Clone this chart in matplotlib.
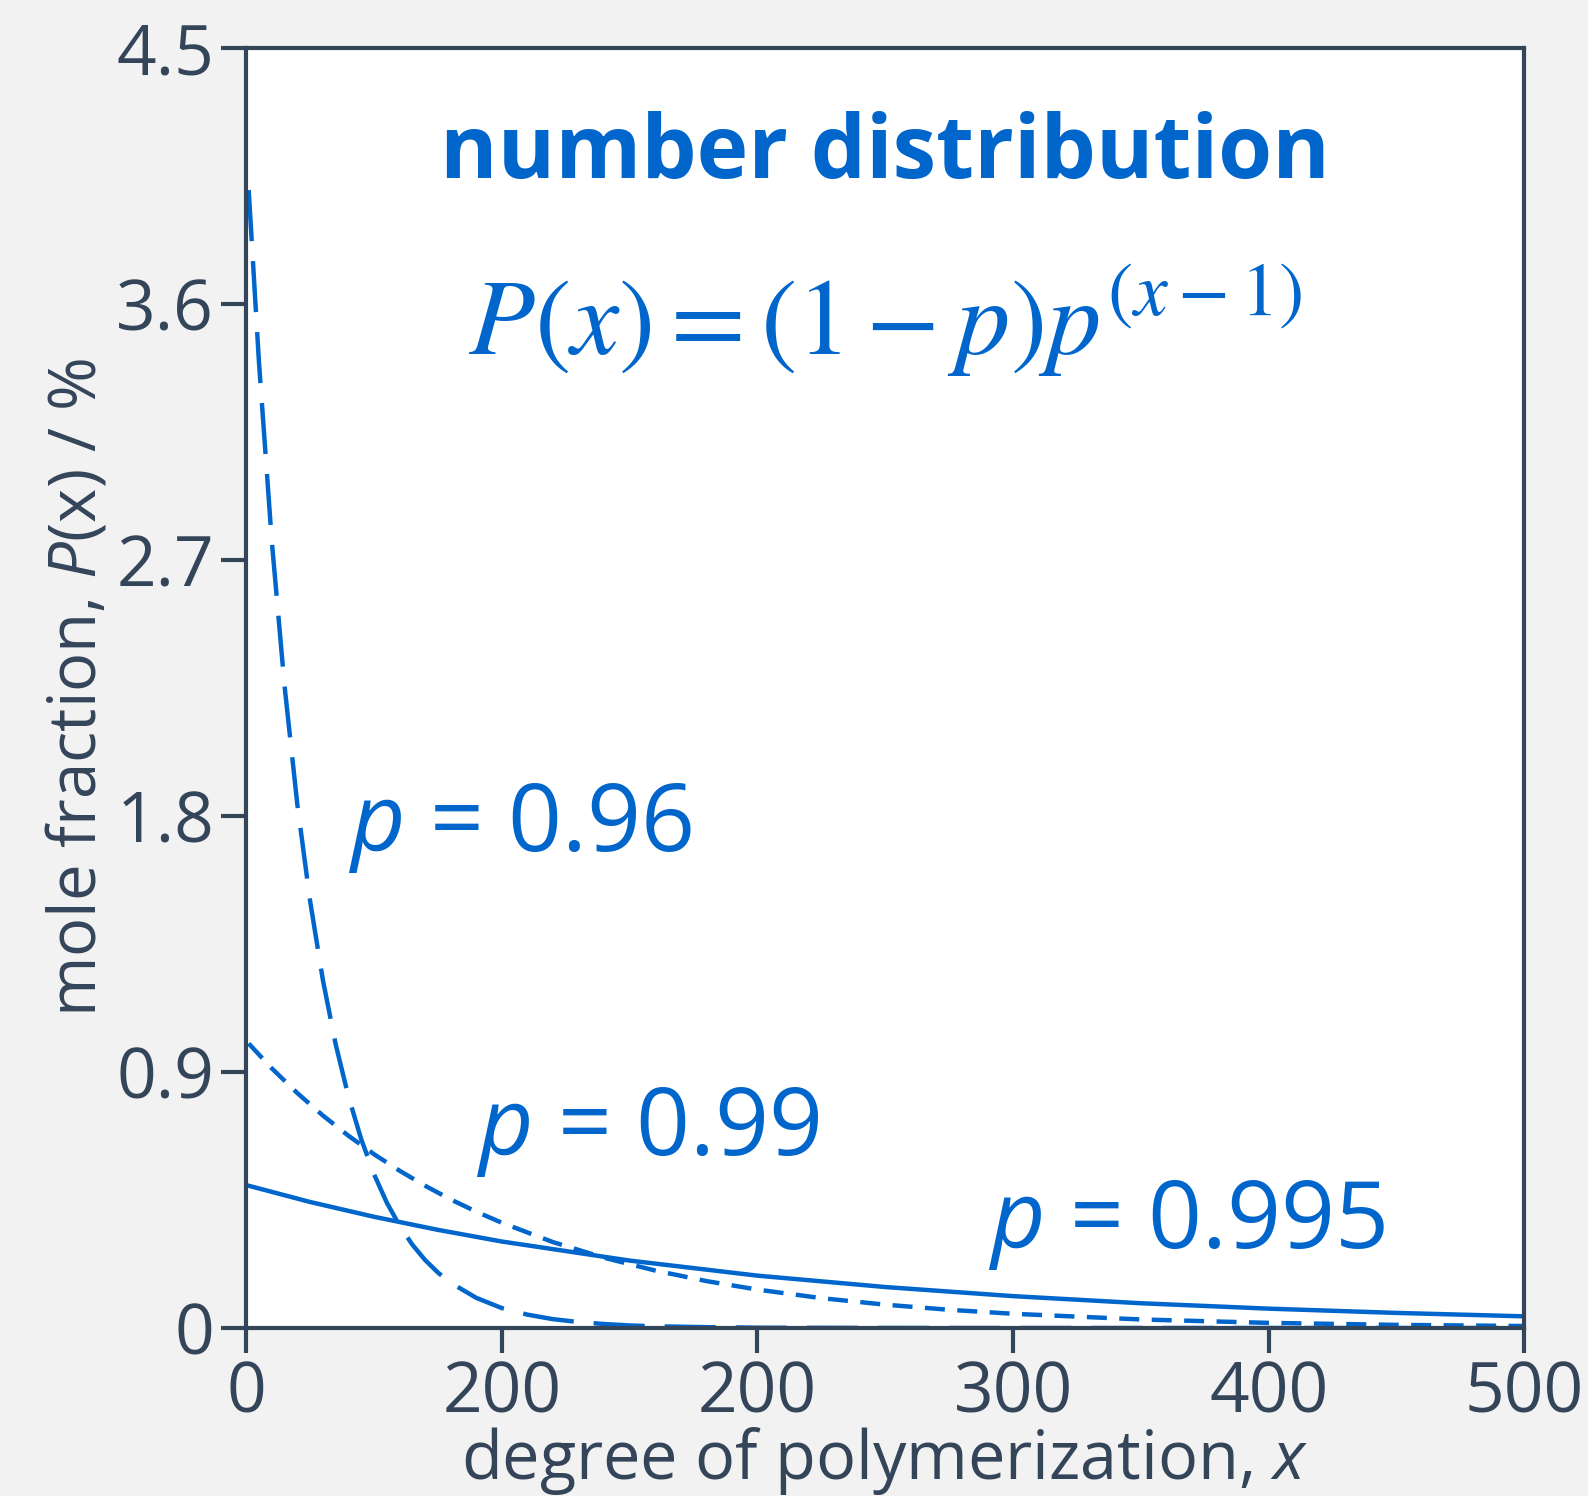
import matplotlib
matplotlib.use("Agg")
import matplotlib.pyplot as plt

# Datos: fracción molar (%) frente a grado de polimerización
x_096 = [1, 5, 10, 15, 20, 25, 30, 35, 40, 45, 50, 55, 60, 65, 70, 75, 80,
         90, 100, 110, 120, 130, 140, 150, 160, 180, 200, 250, 300, 400, 500]
y_096 = [4.000, 3.397, 2.770, 2.259, 1.842, 1.502, 1.224, 0.998, 0.814, 0.664,
         0.541, 0.441, 0.360, 0.293, 0.239, 0.195, 0.159, 0.106, 0.070, 0.047,
         0.031, 0.021, 0.014, 0.009, 0.006, 0.003, 0.001, 0.0002, 0.0, 0.0,
         0.0]

x_099 = [1, 10, 20, 30, 40, 50, 60, 70, 80, 90, 100, 120, 140, 160, 180, 200,
         225, 250, 275, 300, 350, 400, 450, 500]
y_099 = [1.000, 0.913, 0.826, 0.747, 0.676, 0.611, 0.553, 0.500, 0.452, 0.409,
         0.370, 0.302, 0.247, 0.202, 0.165, 0.135, 0.105, 0.082, 0.064, 0.050,
         0.030, 0.018, 0.011, 0.007]

x_0995 = [1, 25, 50, 75, 100, 150, 200, 250, 300, 350, 400, 450, 500]
y_0995 = [0.500, 0.443, 0.391, 0.345, 0.304, 0.237, 0.184, 0.144, 0.112,
          0.087, 0.068, 0.053, 0.041]

xticks = [0, 100, 200, 300, 400, 500]
xtick_labels = ["0", "200", "200", "300", "400", "500"]
yticks = [0, 0.9, 1.8, 2.7, 3.6, 4.5]
ytick_labels = ["0", "0.9", "1.8", "2.7", "3.6", "4.5"]

azul = "#0066cc"
gris = "#34455a"

plt.rcParams["font.family"] = ["Open Sans", "DejaVu Sans"]
plt.rcParams["mathtext.fontset"] = "custom"
plt.rcParams["mathtext.rm"] = "Open Sans"
plt.rcParams["mathtext.it"] = "Open Sans:italic"

fig = plt.figure(figsize=(15.88, 14.96), dpi=100, facecolor="#f2f2f2")
ax = fig.add_axes([0.155, 0.1123, 0.805, 0.8557])
ax.set_facecolor("white")

# Curvas
ax.plot(x_096, y_096, color=azul, lw=3.2, dashes=(11.5, 4.5))
ax.plot(x_099, y_099, color=azul, lw=3.2, dashes=(4.5, 2.8))
ax.plot(x_0995, y_0995, color=azul, lw=3.2)

ax.set_xlim(0, 500)
ax.set_ylim(0, 4.5)
ax.set_xticks(xticks)
ax.set_xticklabels(xtick_labels)
ax.set_yticks(yticks)
ax.set_yticklabels(ytick_labels)

for s in ax.spines.values():
    s.set_color(gris)
    s.set_linewidth(3)
ax.tick_params(direction="out", length=18, width=3, color=gris,
               labelcolor=gris, labelsize=50, pad=5)

ax.set_xlabel(r"degree of polymerization, $x$", fontsize=48, color=gris,
              va="baseline")
ax.xaxis.set_label_coords(0.5, -0.118)
ax.set_ylabel(r"mole fraction, $P$(x) / %", fontsize=47, color=gris,
              va="baseline")
ax.yaxis.set_label_coords(-0.118, 0.5)

# Textos
ax.text(250, 4.044, "number distribution", ha="center", va="baseline",
        fontsize=63, fontweight="bold", color=azul)
ax.text(250, 3.42, r"$P(x) = (1 - p)p^{(x-1)}$", ha="center", va="baseline",
        fontsize=78, color=azul, math_fontfamily="stix")
ax.text(40, 1.677, r"$p$ = 0.96", ha="left", va="baseline", fontsize=68,
        color=azul)
ax.text(90, 0.609, r"$p$ = 0.99", ha="left", va="baseline", fontsize=68,
        color=azul)
ax.text(290, 0.281, r"$p$ = 0.995", ha="left", va="baseline", fontsize=68,
        color=azul)

plt.savefig("out.png", dpi=100, facecolor=fig.get_facecolor())
